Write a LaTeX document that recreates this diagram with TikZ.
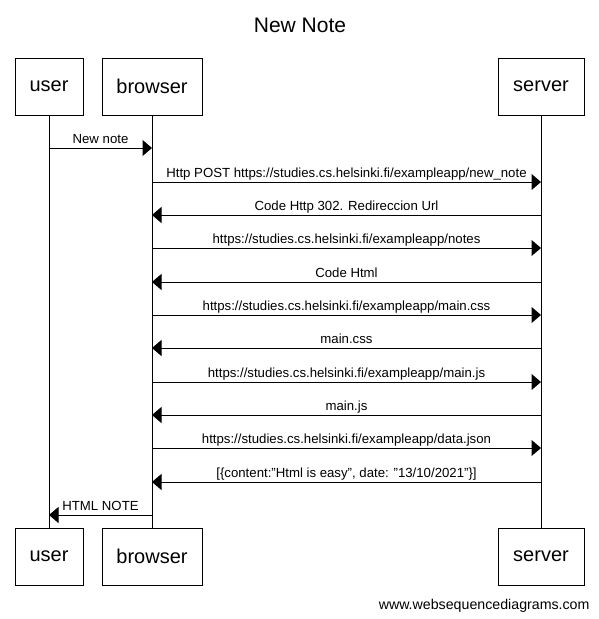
\documentclass[tikz,border=0pt]{standalone}
\usepackage{fontspec}
\setmainfont{Liberation Sans}
\usetikzlibrary{arrows.meta}
\begin{document}
\begin{tikzpicture}[x=1pt,y=-1pt,line width=1pt,
  actor/.style={draw,fill=white,minimum height=57pt,inner sep=0pt,font=\fontsize{20}{22}\selectfont},
  msg/.style={-{Triangle[length=9.5pt,width=16pt]}},
  lbl/.style={font=\fontsize{13.2}{15}\selectfont,inner sep=0pt,anchor=base}]
\useasboundingbox (0,0) rectangle (599,619);
\node[font=\fontsize{21}{24}\selectfont] (title) at (300,25) {New Note};
% top actors
\node[actor,minimum width=68pt] (ut) at (49,86.5) {user};
\node[actor,minimum width=100pt] (bt) at (152,86.5) {browser};
\node[actor,minimum width=86pt] (st) at (541,86.5) {server};
% bottom actors
\node[actor,minimum width=68pt] (ub) at (49,556.5) {user};
\node[actor,minimum width=100pt] (bb) at (152,556.5) {browser};
\node[actor,minimum width=86pt] (sb) at (541,556.5) {server};
% lifelines
\draw (ut.south) -- (ub.north);
\draw (bt.south) -- (bb.north);
\draw (st.south) -- (sb.north);
% message coordinates
\foreach \i/\y in {1/148,2/182,3/215,4/248,5/282,6/315,7/348,8/382,9/415,10/448,11/482,12/515}{
  \coordinate (u\i) at (49,\y);
  \coordinate (b\i) at (152,\y);
  \coordinate (s\i) at (541,\y);
}
\draw[msg] (u1) -- node[lbl,yshift=5pt]{New note} (b1);
\draw[msg] (b2) -- node[lbl,yshift=5pt]{Http POST https://studies.cs.helsinki.fi/exampleapp/new\_note} (s2);
\draw[msg] (s3) -- node[lbl,yshift=5pt]{Code Http 302. Redireccion Url} (b3);
\draw[msg] (b4) -- node[lbl,yshift=5pt]{https://studies.cs.helsinki.fi/exampleapp/notes} (s4);
\draw[msg] (s5) -- node[lbl,yshift=5pt]{Code Html} (b5);
\draw[msg] (b6) -- node[lbl,yshift=5pt]{https://studies.cs.helsinki.fi/exampleapp/main.css} (s6);
\draw[msg] (s7) -- node[lbl,yshift=5pt]{main.css} (b7);
\draw[msg] (b8) -- node[lbl,yshift=5pt]{https://studies.cs.helsinki.fi/exampleapp/main.js} (s8);
\draw[msg] (s9) -- node[lbl,yshift=5pt]{main.js} (b9);
\draw[msg] (b10) -- node[lbl,yshift=5pt]{https://studies.cs.helsinki.fi/exampleapp/data.json} (s10);
\draw[msg] (s11) -- node[lbl,yshift=5pt]{[\{content:"Html is easy", date: "13/10/2021"\}]} (b11);
\draw[msg] (b12) -- node[lbl,yshift=5pt]{HTML NOTE} (u12);
\node[font=\fontsize{14.2}{16}\selectfont,anchor=base east,inner sep=0pt] (wm) at (590,609) {www.websequencediagrams.com};
\end{tikzpicture}
\end{document}
